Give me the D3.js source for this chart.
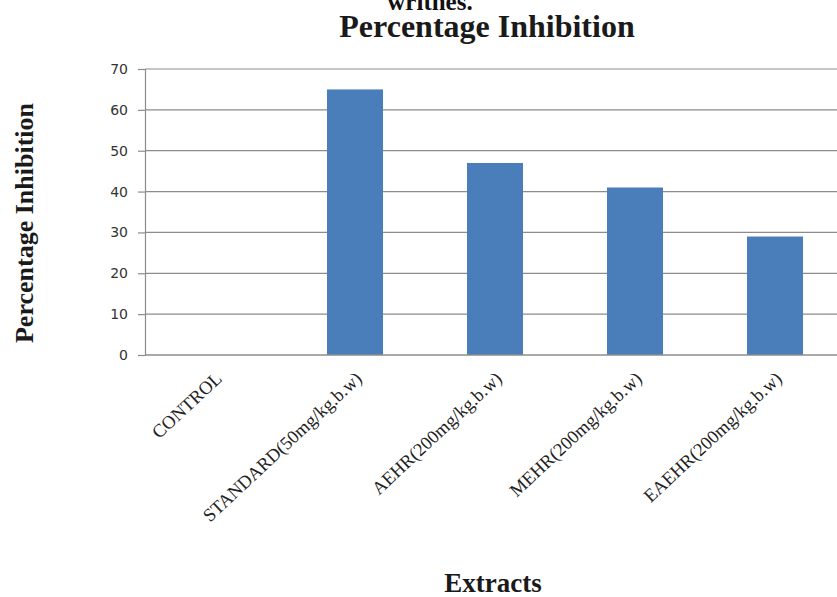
<!DOCTYPE html>
<html>
<head>
<meta charset="utf-8">
<script src="https://cdn.jsdelivr.net/npm/d3@7"></script>
<style>
  html, body { margin: 0; padding: 0; background: #fff; }
  svg { display: block; }
</style>
</head>
<body>
<svg id="chart" width="837" height="597"></svg>
<script>
// Percentage inhibition of writhes by treatment group
const categories = [
  "CONTROL",
  "STANDARD(50mg/kg.b.w)",
  "AEHR(200mg/kg.b.w)",
  "MEHR(200mg/kg.b.w)",
  "EAEHR(200mg/kg.b.w)"
];
const inhibition = [0, 65, 47, 41, 29];
const yTicks = [0, 10, 20, 30, 40, 50, 60, 70];

const svg = d3.select("#chart");
const plotLeft = 145, plotTop = 69, plotBottom = 355, step = 140;
const serif = "'Liberation Serif', 'Times New Roman', serif";

const x = d3.scaleBand()
  .domain(categories)
  .range([plotLeft, plotLeft + step * categories.length])
  .paddingInner(0.6)
  .paddingOuter(0.3);

const y = d3.scaleLinear().domain([0, 70]).range([plotBottom, plotTop]);

// gridlines
svg.append("g")
  .selectAll("line")
  .data(yTicks.filter(d => d > 0))
  .join("line")
  .attr("x1", plotLeft).attr("x2", 837)
  .attr("y1", d => y(d)).attr("y2", d => y(d))
  .attr("stroke", "#8c8c8c").attr("stroke-width", 1.2);

// bars
svg.append("g")
  .selectAll("rect")
  .data(categories)
  .join("rect")
  .attr("x", d => x(d))
  .attr("width", x.bandwidth())
  .attr("y", (d, i) => y(inhibition[i]))
  .attr("height", (d, i) => y(0) - y(inhibition[i]))
  .attr("fill", "#4a7ebb");

// y axis
const yAxis = svg.append("g")
  .attr("transform", `translate(${plotLeft},0)`)
  .call(d3.axisLeft(y).tickValues(yTicks).tickSize(7).tickPadding(10));
yAxis.select(".domain").attr("stroke", "#8c8c8c").attr("stroke-width", 1.2);
yAxis.selectAll(".tick line").attr("stroke", "#8c8c8c").attr("stroke-width", 1.2);
yAxis.selectAll("text")
  .attr("font-family", "Verdana, 'DejaVu Sans', sans-serif")
  .attr("font-size", 14).attr("fill", "#333");

// x baseline
svg.append("line")
  .attr("x1", plotLeft).attr("x2", 837)
  .attr("y1", plotBottom).attr("y2", plotBottom)
  .attr("stroke", "#8c8c8c").attr("stroke-width", 1.5);

// category labels
svg.append("g")
  .selectAll("text")
  .data(categories)
  .join("text")
  .attr("transform", d => `translate(${x(d) + x.bandwidth() / 2 + 8},${plotBottom + 25}) rotate(-43)`)
  .attr("text-anchor", "end")
  .attr("font-family", serif)
  .attr("font-size", 18.5)
  .attr("fill", "#222")
  .text(d => d);

// titles
svg.append("text")
  .attr("x", 430).attr("y", 10)
  .attr("text-anchor", "middle")
  .attr("font-family", serif).attr("font-weight", "bold")
  .attr("font-size", 25).attr("fill", "#111")
  .text("writhes.");

svg.append("text")
  .attr("x", 487).attr("y", 37)
  .attr("text-anchor", "middle")
  .attr("font-family", serif).attr("font-weight", "bold")
  .attr("font-size", 32).attr("fill", "#1a1a1a")
  .text("Percentage Inhibition");

svg.append("text")
  .attr("transform", "translate(33,223) rotate(-90)")
  .attr("text-anchor", "middle")
  .attr("font-family", serif).attr("font-weight", "bold")
  .attr("font-size", 26).attr("fill", "#1a1a1a")
  .text("Percentage Inhibition");

svg.append("text")
  .attr("x", 493).attr("y", 592)
  .attr("text-anchor", "middle")
  .attr("font-family", serif).attr("font-weight", "bold")
  .attr("font-size", 27).attr("fill", "#1a1a1a")
  .text("Extracts");
</script>
</body>
</html>
